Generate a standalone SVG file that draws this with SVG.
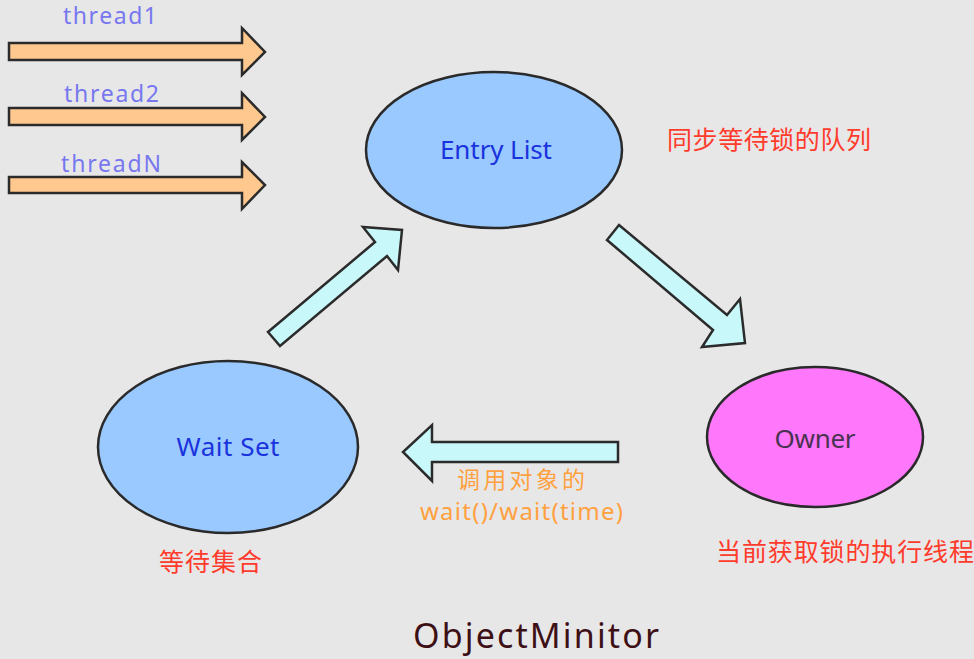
<svg xmlns="http://www.w3.org/2000/svg" width="974" height="659" viewBox="0 0 974 659">
<style>
.bg{fill:#e8e7e8}
.tarrow{fill:#ffc88e;stroke:#2b2b2b;stroke-width:2.5;stroke-linejoin:miter}
.carrow{fill:#c9f8fb;stroke:#2b2b2b;stroke-width:2.5;stroke-linejoin:miter}
.node{stroke:#2a2a2a;stroke-width:2.5}
.blue{fill:#99c9fe}
.pink{fill:#ff77fb}
text{font-family:"Noto Sans","Open Sans","Noto Sans CJK SC",sans-serif}
.tl{font-size:23px;fill:#7777ef}
.nl{font-size:26px;fill:#1a33dd;text-anchor:middle}
.red{font-size:25px;fill:#ff3b2c;font-family:"Noto Sans CJK SC",sans-serif}
.orange{font-size:24px;fill:#ffa13f}
</style>
<rect class="bg" x="0" y="0" width="974" height="659"/>

<g id="threads">
  <g id="thread1">
    <polygon class="tarrow" points="9,43 242,43 242,28 265,52 242,75 242,60 9,60"/>
    <text class="tl" x="63" y="24" textLength="94">thread1</text>
  </g>
  <g id="thread2">
    <polygon class="tarrow" points="9,108 242,108 242,93 265,117 242,140 242,125 9,125"/>
    <text class="tl" x="64" y="102" textLength="95">thread2</text>
  </g>
  <g id="threadN">
    <polygon class="tarrow" points="9,177 242,177 242,162 265,185 242,209 242,193 9,193"/>
    <text class="tl" x="61" y="172" textLength="100">threadN</text>
  </g>
</g>

<g id="connectors">
  <polygon class="carrow" points="268,332 375,242 363,227 402,230 398,270 387,256 280,346"/>
  <polygon class="carrow" points="619,225 727,315 740,299 745,343 702,347 713,330 607,240"/>
  <polygon class="carrow" points="618,442 432,442 432,425 403,452 432,481 432,462 618,462"/>
  <text class="orange" x="521" y="488" text-anchor="middle" style="font-family:'Noto Sans CJK SC',sans-serif;font-size:23px" textLength="128">调用对象的</text>
  <text class="orange" x="420" y="520" textLength="203">wait()/wait(time)</text>
</g>

<g id="entry-list">
  <ellipse class="node blue" cx="494" cy="150" rx="128" ry="78"/>
  <text class="nl" x="496" y="159" textLength="112">Entry List</text>
  <text class="red" x="667" y="149" textLength="204">同步等待锁的队列</text>
</g>

<g id="wait-set">
  <ellipse class="node blue" cx="228" cy="447" rx="130" ry="86"/>
  <text class="nl" x="228" y="456" textLength="103">Wait Set</text>
  <text class="red" x="159" y="571" textLength="103">等待集合</text>
</g>

<g id="owner">
  <ellipse class="node pink" cx="815" cy="437" rx="108" ry="70"/>
  <text class="nl" x="815" y="448" style="fill:#4a3350" textLength="81">Owner</text>
  <text class="red" x="716" y="561" textLength="258">当前获取锁的执行线程</text>
</g>

<text id="title" x="413" y="648" style="font-size:34px;fill:#3d1016" textLength="246">ObjectMinitor</text>
</svg>
